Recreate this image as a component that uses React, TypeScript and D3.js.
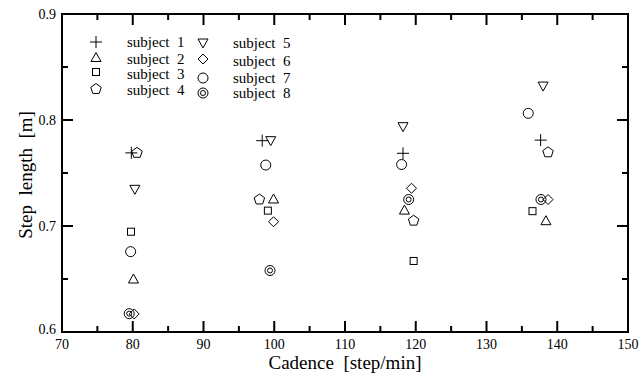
import * as d3 from "d3";

// cadence [step/min] and step length [m] per subject
const subjects = ["subject  1", "subject  2", "subject  3", "subject  4", "subject  5", "subject  6", "subject  7", "subject  8"];
const markers = ["plus", "triUp", "square", "pentagon", "triDown", "diamond", "circle", "dcircle"];

const cadence1 = [79.8, 98.3, 118.2, 137.65];
const length1 = [0.769, 0.7805, 0.7686, 0.781];
const cadence2 = [80.1, 99.9, 118.4, 138.4];
const length2 = [0.65, 0.7255, 0.715, 0.705];
const cadence3 = [79.75, 99.1, 119.7, 136.5];
const length3 = [0.6946, 0.7145, 0.667, 0.714];
const cadence4 = [80.6, 97.9, 119.7, 138.7];
const length4 = [0.769, 0.725, 0.705, 0.7695];
const cadence5 = [80.3, 99.5, 118.2, 138.0];
const length5 = [0.7346, 0.7805, 0.7937, 0.832];
const cadence6 = [80.2, 99.9, 119.4, 138.7];
const length6 = [0.617, 0.704, 0.7356, 0.725];
const cadence7 = [79.7, 98.8, 118.0, 135.9];
const length7 = [0.6758, 0.7575, 0.758, 0.8063];
const cadence8 = [79.5, 99.4, 119.0, 137.7];
const length8 = [0.6173, 0.658, 0.725, 0.725];

const cadences = [cadence1, cadence2, cadence3, cadence4, cadence5, cadence6, cadence7, cadence8];
const lengths = [length1, length2, length3, length4, length5, length6, length7, length8];

const xTicks = [70, 80, 90, 100, 110, 120, 130, 140, 150];
const yTicks = [0.6, 0.7, 0.8, 0.9];

const W = 643, H = 377;
const left = 62, right = 628, top = 14, bottom = 332;
const serif = { fontFamily: "Liberation Serif", whiteSpace: "pre" as const };

function Marker({ kind, x, y }: { kind: string; x: number; y: number }) {
  const p = { fill: "none", stroke: "#000", strokeWidth: 1 };
  switch (kind) {
    case "plus":
      return <path d={`M${x - 6},${y}H${x + 6}M${x},${y - 6}V${y + 6}`} {...p} />;
    case "triUp":
      return <path d={`M${x},${y - 5}L${x + 5},${y + 4}L${x - 5},${y + 4}Z`} {...p} />;
    case "triDown":
      return <path d={`M${x},${y + 5}L${x + 5},${y - 4}L${x - 5},${y - 4}Z`} {...p} />;
    case "square":
      return <rect x={x - 3.5} y={y - 3.5} width={7} height={7} {...p} />;
    case "diamond":
      return <path d={`M${x},${y - 5}L${x + 5},${y}L${x},${y + 5}L${x - 5},${y}Z`} {...p} />;
    case "pentagon": {
      const pts = d3.range(5).map((i) => {
        const a = -Math.PI / 2 + (i * 2 * Math.PI) / 5;
        return [x + 5.5 * Math.cos(a), y + 5.5 * Math.sin(a)].join(",");
      });
      return <polygon points={pts.join(" ")} {...p} />;
    }
    case "circle":
      return <circle cx={x} cy={y} r={5} {...p} />;
    default:
      return (
        <g>
          <circle cx={x} cy={y} r={5} {...p} />
          <circle cx={x} cy={y} r={2.5} {...p} />
        </g>
      );
  }
}

export default function App() {
  const x = d3.scaleLinear().domain([70, 150]).range([left, right]);
  const y = d3.scaleLinear().domain([0.6, 0.9]).range([bottom, top]);
  const xMinor = d3.range(75, 150, 10);
  const yMinor = [0.65, 0.75, 0.85];

  // legend layout: two columns of four rows
  const legendRows = [
    { sx: 96, sy: 42, tx: 127, ty: 42 },
    { sx: 96, sy: 57.5, tx: 127, ty: 59 },
    { sx: 96, sy: 72, tx: 127, ty: 74 },
    { sx: 96, sy: 89, tx: 127, ty: 90 },
    { sx: 203, sy: 43, tx: 233, ty: 43 },
    { sx: 203, sy: 59, tx: 233, ty: 61 },
    { sx: 203, sy: 78, tx: 233, ty: 78 },
    { sx: 203, sy: 93, tx: 233, ty: 93 },
  ];

  return (
    <svg width={W} height={H} style={{ position: "absolute", left: 0, top: 0, background: "#fff" }}>
      <rect x={left} y={top} width={right - left} height={bottom - top} fill="none" stroke="#000" strokeWidth={2} />
      {xTicks.slice(1, -1).map((t) => (
        <g key={"xt" + t}>
          <line x1={x(t)} x2={x(t)} y1={bottom} y2={bottom - 11} stroke="#000" strokeWidth={2} />
          <line x1={x(t)} x2={x(t)} y1={top} y2={top + 11} stroke="#000" strokeWidth={2} />
        </g>
      ))}
      {xMinor.map((t) => (
        <g key={"xm" + t}>
          <line x1={x(t)} x2={x(t)} y1={bottom} y2={bottom - 6} stroke="#000" strokeWidth={2} />
          <line x1={x(t)} x2={x(t)} y1={top} y2={top + 6} stroke="#000" strokeWidth={2} />
        </g>
      ))}
      {yTicks.slice(1, -1).map((t) => (
        <g key={"yt" + t}>
          <line x1={left} x2={left + 11} y1={y(t)} y2={y(t)} stroke="#000" strokeWidth={2} />
          <line x1={right} x2={right - 11} y1={y(t)} y2={y(t)} stroke="#000" strokeWidth={2} />
        </g>
      ))}
      {yMinor.map((t) => (
        <g key={"ym" + t}>
          <line x1={left} x2={left + 6} y1={y(t)} y2={y(t)} stroke="#000" strokeWidth={2} />
          <line x1={right} x2={right - 6} y1={y(t)} y2={y(t)} stroke="#000" strokeWidth={2} />
        </g>
      ))}
      {xTicks.map((t) => (
        <text key={"xl" + t} x={x(t)} y={bottom + 17} textAnchor="middle" fontSize={14} style={serif}>
          {t}
        </text>
      ))}
      {yTicks.map((t) => (
        <text key={"yl" + t} x={left - 6} y={y(t) + (t === 0.6 ? 2 : 5)} textAnchor="end" fontSize={14} style={serif}>
          {t.toFixed(1)}
        </text>
      ))}
      <text x={(left + right) / 2} y={369} textAnchor="middle" fontSize={19} style={serif}>
        {"Cadence  [step/min]"}
      </text>
      <text
        transform={`translate(32,${(top + bottom) / 2 + 2}) rotate(-90)`}
        textAnchor="middle"
        fontSize={19}
        style={serif}
      >
        {"Step  length  [m]"}
      </text>
      {cadences.map((cs, i) =>
        cs.map((c, j) => <Marker key={i + "-" + j} kind={markers[i]} x={x(c)} y={y(lengths[i][j])} />)
      )}
      {legendRows.map((r, i) => (
        <g key={"lg" + i}>
          <Marker kind={markers[i]} x={r.sx} y={r.sy} />
          <text x={r.tx} y={r.ty + 5} fontSize={15} style={serif}>
            {subjects[i]}
          </text>
        </g>
      ))}
    </svg>
  );
}
